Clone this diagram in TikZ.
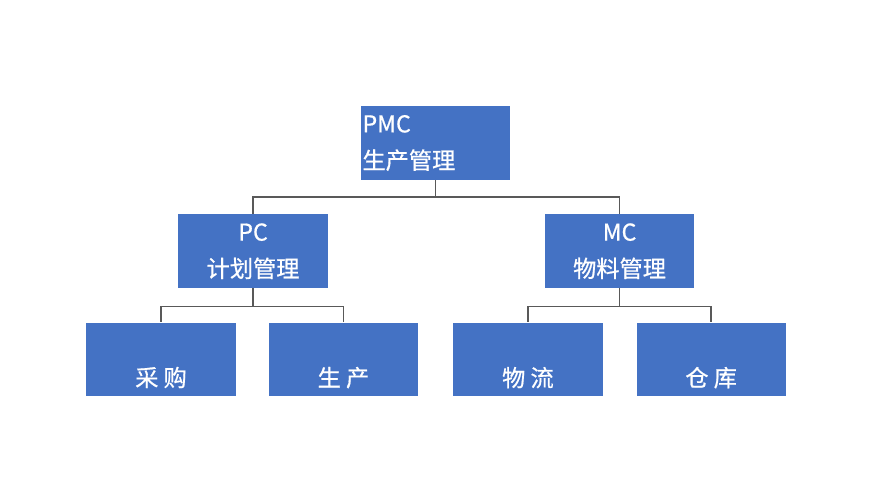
\documentclass[tikz,border=0pt]{standalone}
\usepackage{fontspec}
\setmainfont{Noto Sans CJK SC}[FakeBold=0.7]
\usepackage{xcolor}
\usetikzlibrary{positioning,calc}
\definecolor{boxblue}{RGB}{68,114,196}
\definecolor{linegray}{RGB}{89,89,89}

\begin{document}
\begin{tikzpicture}[
  x=0.025cm,y=-0.025cm,
  node distance=0.85cm and 0cm,
  box/.style={fill=boxblue,text=white,align=center,font=\fontsize{16.5}{26}\selectfont,inner sep=0pt,minimum width=3.73cm,minimum height=1.84cm},
  rootbox/.style={box,align=left,text width=3.65cm},
  conn/.style={draw=linegray,line width=1.1pt}
]
\useasboundingbox (0,0) rectangle (873,482);
\node[rootbox] (pmc) at (435.5,143) {PMC\\生产管理};
\node[box,below=of pmc,xshift=-4.56cm] (pc) {PC\\计划管理};
\node[box,below=of pmc,xshift=4.6cm] (mc) {MC\\物料管理};
\node[box,below=of pc,xshift=-2.3cm] (buy) {\phantom{采}\\采 购};
\node[box,below=of pc,xshift=2.26cm] (make) {\phantom{生}\\生 产};
\node[box,below=of mc,xshift=-2.29cm] (flow) {\phantom{物}\\物 流};
\node[box,below=of mc,xshift=2.29cm] (store) {\phantom{仓}\\仓 库};
\draw[conn] (pmc.south) -- ++(0,17) -| (pc.north);
\draw[conn] (pmc.south) -- ++(0,17) -| (mc.north);
\draw[conn] (pc.south) -- ++(0,18) -| (buy.north);
\draw[conn] (pc.south) -- ++(0,18) -| (make.north);
\draw[conn] (mc.south) -- ++(0,18) -| (flow.north);
\draw[conn] (mc.south) -- ++(0,18) -| (store.north);
\end{tikzpicture}
\end{document}
